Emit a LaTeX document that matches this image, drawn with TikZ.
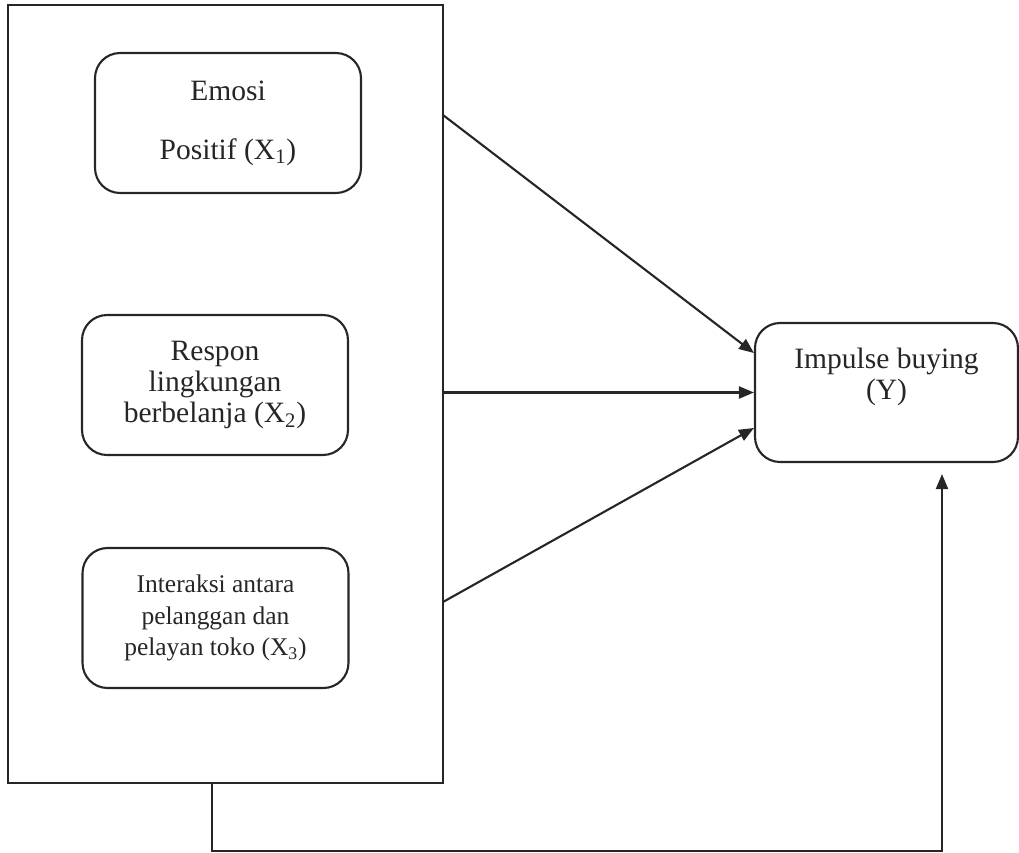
\documentclass[tikz,border=0pt]{standalone}
\usepackage{fontspec}
\setmainfont{Liberation Serif}
\usepackage{tikz}
\usetikzlibrary{positioning,arrows.meta}
\tikzset{
  lw/.style={line width=1.2pt,color=black!85},
  varbox/.style={lw,draw,rectangle,rounded corners=0.5cm,align=center,
    minimum width=5.32cm,minimum height=2.8cm,inner sep=2pt,
    font=\fontsize{16.8pt}{17.9pt}\selectfont},
  framebox/.style={lw,draw,rectangle,minimum width=8.7cm,minimum height=15.56cm},
  >={Triangle[length=3mm,width=2.4mm]},
}

\begin{document}
\begin{tikzpicture}[x=0.02cm,y=-0.02cm]
  \useasboundingbox (0,0) rectangle (1019,853);
  \node[framebox]                (frame)     at (225.5,394) {};
  \node[varbox]                  (emosi)     at (228,123)   {Emosi\\[15.6pt]Positif (X\textsubscript{1})};
  \node[varbox]                  (respon)    at (215,385)   {Respon\\lingkungan\\berbelanja (X\textsubscript{2})};
  \node[varbox,font=\fontsize{14.5pt}{17.9pt}\selectfont]
                                 (interaksi) at (215.5,618) {Interaksi antara\\pelanggan dan\\pelayan toko (X\textsubscript{3})};
  \node[varbox,minimum width=5.26cm,minimum height=2.78cm,text depth=0.75cm]
                                 (impulse)   at (886.5,392.5) {Impulse buying\\(Y)};
  \coordinate (s1) at (443,115);
  \coordinate (s3) at (443,602);
  \coordinate (c1) at (212,851);
  \coordinate (c2) at (942,851);
  \path[->]
    (s1) edge[lw] ([yshift=0.79cm]impulse.west)
    (frame.east |- impulse.west) edge[lw] (impulse.west)
    (s3) edge[lw] ([yshift=-0.71cm]impulse.west);
  \draw[->,lw] (frame.south -| c1) -- (c1) -- (c2) -- ([yshift=-0.22cm]impulse.south -| c2);
\end{tikzpicture}
\end{document}
